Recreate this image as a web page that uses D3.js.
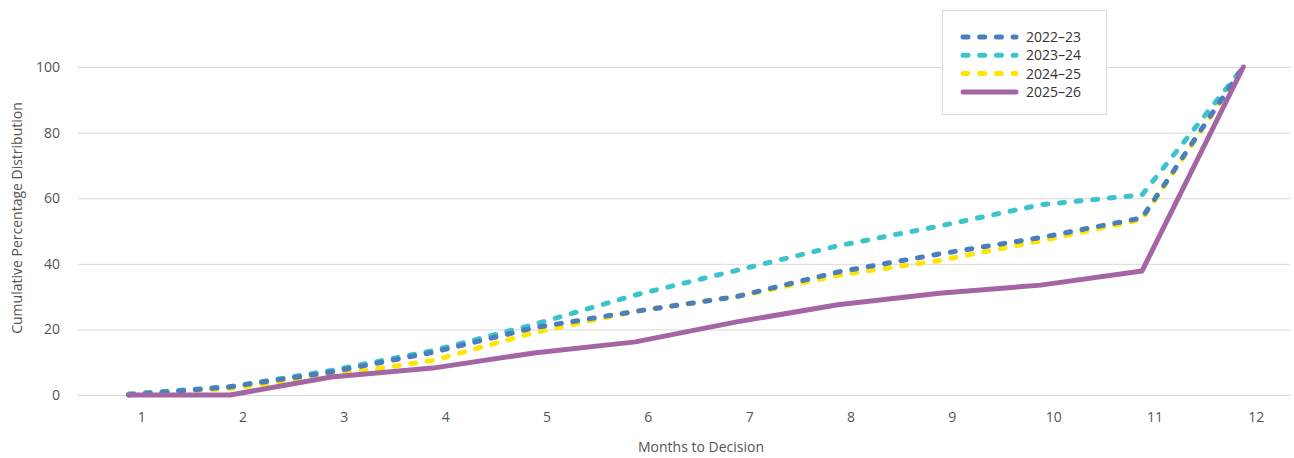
<!DOCTYPE html>
<html><head><meta charset="utf-8">
<script src="https://cdn.jsdelivr.net/npm/d3@7"></script>
<style>body{margin:0;background:#fff;font-family:"Open Sans","Noto Sans",sans-serif;}</style>
</head><body>
<svg id="c" width="1294" height="458"></svg>
<script>
const months = ["1","2","3","4","5","6","7","8","9","10","11","12"];
const yTicks = [0,20,40,60,80,100];
const s2223 = [0,2.5,7,13,20.5,25.5,30,37.5,43,48,54,100];
const s2324 = [0.3,2.5,7.5,13.5,21.5,30.5,38,45.5,51.5,58,61,100];
const s2425 = [0.3,2,6,10.5,19,25.5,30,36.5,41,47,53.5,100];
const s2526 = [0,0,5.5,8.2,12.8,16.2,22.3,27.5,31,33.5,37.8,100];
const seriesNames = ["2022\u201323","2023\u201324","2024\u201325","2025\u201326"];
const seriesColors = ["#4a7ebf","#3cc3cc","#ffe600","#a465a5"];
const seriesData = [s2223,s2324,s2425,s2526];

const svg = d3.select("#c");
const L = 78, R = 1294, T = 67, B = 395;
const x = d3.scaleBand().domain(months).range([L,R]);
const y = d3.scaleLinear().domain([0,100]).range([B,T]);

// grid
svg.append("g").selectAll("line").data(yTicks).join("line")
  .attr("x1",L).attr("x2",R-4).attr("y1",d=>y(d)+0.5).attr("y2",d=>y(d)+0.5)
  .attr("stroke","#d9d9d9").attr("stroke-width",1);

// y labels
svg.append("g").selectAll("text").data(yTicks).join("text")
  .attr("x",60).attr("y",d=>y(d)).attr("dy","0.35em").attr("text-anchor","end")
  .attr("font-size",14).attr("fill","#555").text(d=>d);

// x labels
const xAxis = d3.axisBottom(x).tickSize(0).tickPadding(0);
const gx = svg.append("g").attr("transform",`translate(13,${B})`).call(xAxis);
gx.select(".domain").remove();
gx.selectAll("text").attr("font-size",14).attr("fill","#555")
  .attr("font-family","'Open Sans','Noto Sans',sans-serif").attr("y",22).attr("dy","0.35em");

// titles
svg.append("text").attr("x",701).attr("y",447).attr("dy","0.35em").attr("text-anchor","middle")
  .attr("font-size",14).attr("fill","#555").text("Months to Decision");
svg.append("text").attr("transform","translate(17,218) rotate(-90)").attr("dy","0.35em").attr("text-anchor","middle")
  .attr("font-size",14).attr("fill","#555").text("Cumulative Percentage Distribution");

const line = d3.line().x((d,i)=>x(months[i])+x.bandwidth()/2).y(d=>y(d));
[2,1,0,3].forEach(k=>{
  const p = svg.append("path").datum(seriesData[k]).attr("d",line)
    .attr("fill","none").attr("stroke",seriesColors[k])
    .attr("stroke-linecap","round").attr("stroke-linejoin","round")
    .attr("stroke-width",5);
  if(k<3) p.attr("stroke-dasharray","5 11.7");
});

// legend
const lg = svg.append("g");
lg.append("rect").attr("x",942.5).attr("y",10.5).attr("width",164).attr("height",104)
  .attr("fill","#fff").attr("stroke","#d9d9d9");
seriesNames.forEach((n,i)=>{
  const yy = 37 + i*18.3;
  const l = lg.append("line").attr("x1",963).attr("x2",1016).attr("y1",yy).attr("y2",yy)
    .attr("stroke",seriesColors[i]).attr("stroke-width",5).attr("stroke-linecap","round");
  if(i<3) l.attr("stroke-dasharray","5 11.7");
  lg.append("text").attr("x",1026).attr("y",yy).attr("dy","0.35em")
    .attr("font-size",14).attr("fill","#333").text(n);
});
</script>
</body></html>
